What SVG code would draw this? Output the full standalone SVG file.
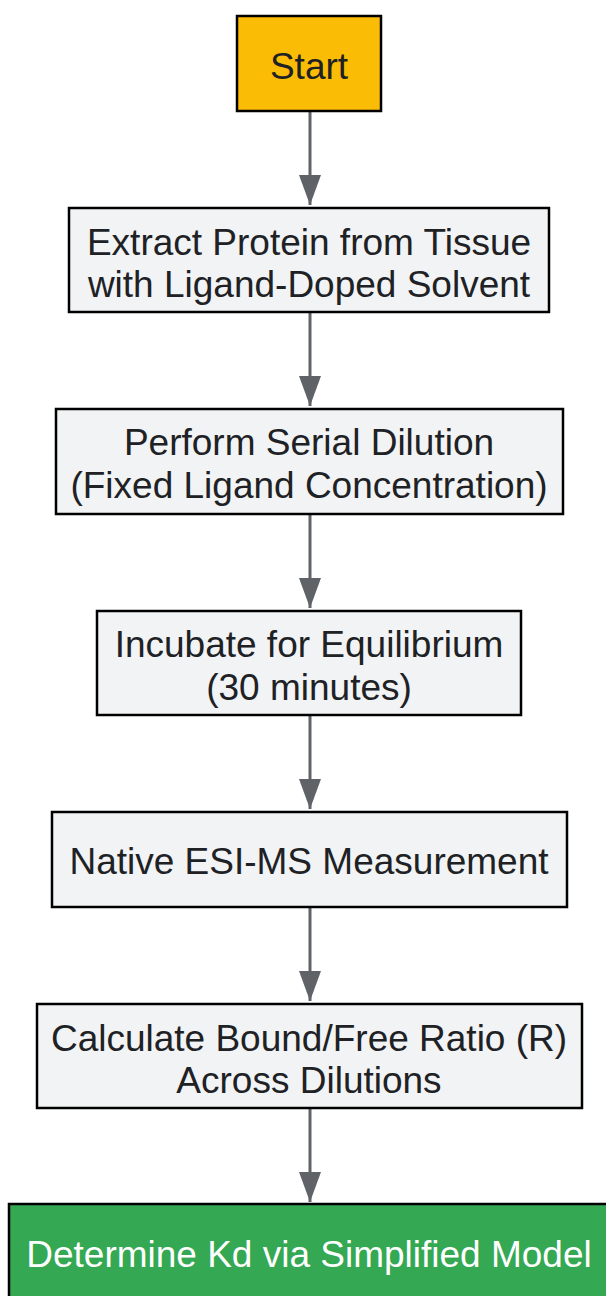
<svg xmlns="http://www.w3.org/2000/svg" width="606" height="1296" viewBox="0 0 606 1296">
<style>
.box{fill:#f1f3f4;stroke:#000;stroke-width:2.5}
.t{font-family:"Liberation Sans",Arial,sans-serif;font-size:37px;fill:#202124;text-anchor:middle}
.e{stroke:#5f6368;stroke-width:3;fill:none}
</style>
<rect width="606" height="1296" fill="#fff"/>
<g id="edges">
<path class="e" d="M310,111 V205"/>
<path class="e" d="M310,312 V406"/>
<path class="e" d="M310,514 V608"/>
<path class="e" d="M310,715 V809"/>
<path class="e" d="M310,907 V1001"/>
<path class="e" d="M310,1108 V1202"/>
<g fill="#5f6368">
<path d="M299,175 L321,175 L310,205 Z"/>
<path d="M299,376 L321,376 L310,406 Z"/>
<path d="M299,578 L321,578 L310,608 Z"/>
<path d="M299,779 L321,779 L310,809 Z"/>
<path d="M299,971 L321,971 L310,1001 Z"/>
<path d="M299,1172 L321,1172 L310,1202 Z"/>
</g>
</g>
<g id="start">
<rect x="237" y="16" width="144" height="95" fill="#fbbc05" stroke="#000" stroke-width="2.5"/>
<text class="t" x="309" y="79">Start</text>
</g>
<g id="extract">
<rect class="box" x="69" y="208" width="480" height="104"/>
<text class="t" x="309" y="255">Extract Protein from Tissue</text>
<text class="t" x="309" y="297">with Ligand-Doped Solvent</text>
</g>
<g id="dilution">
<rect class="box" x="56" y="409" width="507" height="105"/>
<text class="t" x="309" y="455">Perform Serial Dilution</text>
<text class="t" x="309" y="498">(Fixed Ligand Concentration)</text>
</g>
<g id="incubate">
<rect class="box" x="97" y="611" width="424" height="104"/>
<text class="t" x="309" y="657">Incubate for Equilibrium</text>
<text class="t" x="309" y="700">(30 minutes)</text>
</g>
<g id="esims">
<rect class="box" x="52" y="812" width="515" height="95"/>
<text class="t" x="309" y="874">Native ESI-MS Measurement</text>
</g>
<g id="ratio">
<rect class="box" x="37" y="1004" width="545" height="104"/>
<text class="t" x="309" y="1051">Calculate Bound/Free Ratio (R)</text>
<text class="t" x="309" y="1093">Across Dilutions</text>
</g>
<g id="kd">
<rect x="9" y="1204" width="610" height="110" fill="#34a853" stroke="#000" stroke-width="2.5"/>
<text class="t" x="309" y="1267" style="fill:#fff">Determine Kd via Simplified Model</text>
</g>
</svg>
